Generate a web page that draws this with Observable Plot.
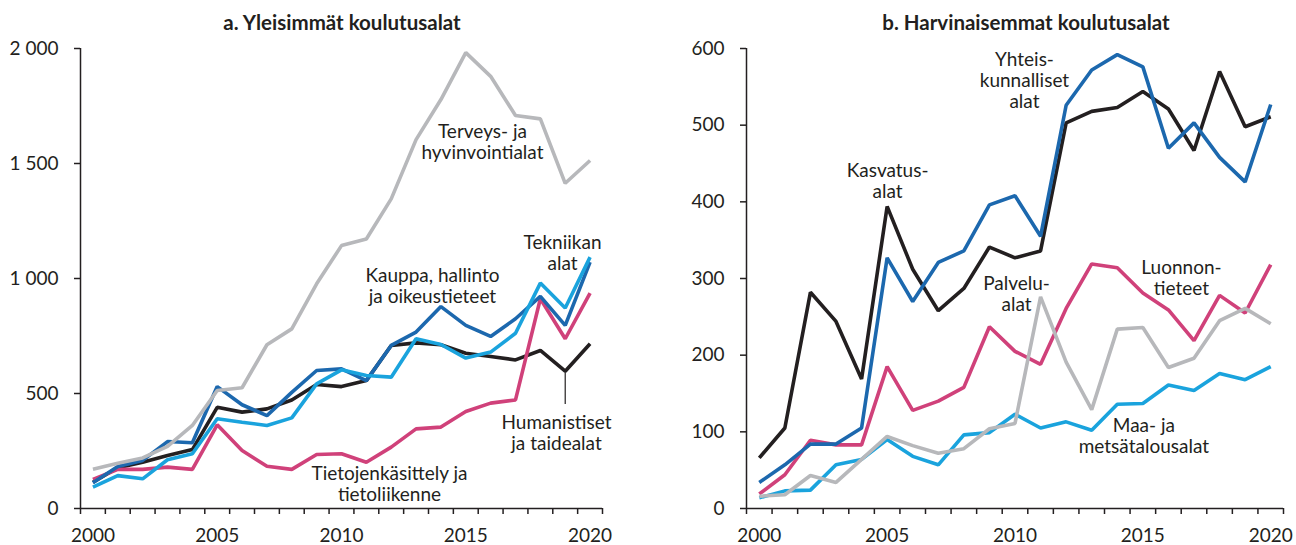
<!DOCTYPE html>
<html><head><meta charset="utf-8">
<script src="https://cdn.jsdelivr.net/npm/d3@7"></script>
<script src="https://cdn.jsdelivr.net/npm/@observablehq/plot@0.6"></script>
<style>
body{margin:0;background:#fff;font-family:Lato, sans-serif;}
#wrap{position:relative;width:1296px;height:545px;overflow:hidden;background:#fff;}
.panel{position:absolute;top:0;}
.title{position:absolute;top:11px;line-height:22px;font-weight:bold;font-size:20.5px;transform:translateX(-50%);white-space:nowrap;color:#231f20;}
</style></head><body>
<div id="wrap">
  <div class="panel" id="pa" style="left:0px"></div>
  <div class="panel" id="pb" style="left:648px"></div>
  <div class="title" style="left:342px">a. Yleisimmät koulutusalat</div>
  <div class="title" style="left:1026px">b. Harvinaisemmat koulutusalat</div>
</div>
<script>
const years = [2000,2001,2002,2003,2004,2005,2006,2007,2008,2009,2010,2011,2012,2013,2014,2015,2016,2017,2018,2019,2020];
const yearLabels = [2000,2005,2010,2015,2020];

// Panel a: Yleisimmät koulutusalat
const humanistiset = [114,177,201,230,256,440,419,433,472,539,530,556,709,720,712,675,661,646,687,597,716];
const tietojenkasittely = [126,170,170,180,170,364,252,184,170,235,238,201,267,346,354,422,458,472,912,738,936];
const kauppa = [112,183,209,291,286,530,451,404,505,600,607,556,709,767,878,796,748,825,922,796,1071];
const tekniikka = [93,143,129,212,238,390,375,361,394,542,603,578,571,738,713,654,680,762,980,872,1093];
const terveys = [171,197,220,270,361,513,525,712,781,977,1143,1172,1346,1604,1778,1982,1879,1709,1694,1414,1513];

// Panel b: Harvinaisemmat koulutusalat
const kasvatus = [66,105,282,244,169,394,312,258,287,341,327,336,503,518,523,544,521,467,570,498,511];
const luonnontieteet = [19,44,89,83,83,185,128,140,158,237,205,188,261,319,314,281,259,219,278,255,318];
const yhteiskunnalliset = [34,57,84,84,105,327,270,321,336,396,408,355,526,572,592,576,470,503,458,426,527];
const maametsa = [14,23,24,57,64,90,68,57,96,99,123,105,113,102,136,137,161,154,176,168,185];
const palvelu = [16,18,43,34,64,94,82,72,78,104,111,276,191,129,234,236,184,196,245,261,241];

const C = {black:"#231f20", dark:"#1c68ae", light:"#1aa3dd", pink:"#d0417a", gray:"#b7b8bb"};

const seriesA = [
  {name:"Humanistiset ja taidealat", values:humanistiset, color:C.black},
  {name:"Tietojenkäsittely ja tietoliikenne", values:tietojenkasittely, color:C.pink},
  {name:"Kauppa, hallinto ja oikeustieteet", values:kauppa, color:C.dark},
  {name:"Tekniikan alat", values:tekniikka, color:C.light},
  {name:"Terveys- ja hyvinvointialat", values:terveys, color:C.gray}
];
const seriesB = [
  {name:"Kasvatusalat", values:kasvatus, color:C.black},
  {name:"Luonnontieteet", values:luonnontieteet, color:C.pink},
  {name:"Maa- ja metsätalousalat", values:maametsa, color:C.light},
  {name:"Palvelualat", values:palvelu, color:C.gray},
  {name:"Yhteiskunnalliset alat", values:yhteiskunnalliset, color:C.dark}
];

const labelsA = [
  {x:2015.67, y:1596, text:"Terveys- ja\nhyvinvointialat"},
  {x:2013.66, y:970, text:"Kauppa, hallinto\nja oikeustieteet"},
  {x:2018.89, y:1113, text:"Tekniikan\nalat"},
  {x:2018.65, y:330, text:"Humanistiset\nja taidealat"},
  {x:2011.93, y:109, text:"Tietojenkäsittely ja\ntietoliikenne"}
];
const labelsB = [
  {x:2010.37, y:559, text:"Yhteis-\nkunnalliset\nalat"},
  {x:2005.02, y:427, text:"Kasvatus-\nalat"},
  {x:2010.06, y:280, text:"Palvelu-\nalat"},
  {x:2016.51, y:301, text:"Luonnon-\ntieteet"},
  {x:2015.04, y:95, text:"Maa- ja\nmetsätalousalat"}
];
const leadersA = [{x:2019, y1:humanistiset[19], y2:452}];

const fmt = d3.formatLocale({decimal:",", thousands:"\u00a0", grouping:[3], currency:["","€"]}).format(",");

function panel({series, labels, leaders, ymax, ystep, marginLeft, marginRight}) {
  const rows = series.flatMap(s => s.values.map((v,i) => ({year:years[i], value:v, name:s.name})));
  const x0 = years[0] - 0.5, x1 = years[years.length-1] + 0.5;
  const boundaries = d3.range(years.length + 1).map(i => x0 + i);
  return Plot.plot({
    width:648, height:545, marginLeft, marginRight, marginTop:48, marginBottom:37,
    style:{fontFamily:"Lato, sans-serif", fontSize:"19px", color:"#231f20", background:"white", overflow:"visible"},
    x:{domain:[x0, x1]},
    y:{domain:[0, ymax]},
    color:{domain:series.map(s => s.name), range:series.map(s => s.color)},
    marks:[
      Plot.axisY({ticks:d3.range(0, ymax + 1, ystep), tickSize:6, tickPadding:16, tickFormat:fmt, label:null, fontSize:19, strokeWidth:1.5}),
      Plot.axisX({ticks:boundaries, tickSize:6, tickFormat:() => "", label:null, strokeWidth:1.5}),
      Plot.axisX({ticks:yearLabels, tickSize:0, tickPadding:20, tickFormat:d => String(d), label:null, fontSize:19}),
      Plot.ruleX([x0], {y1:0, y2:ymax, stroke:"#231f20", strokeWidth:1.5}),
      Plot.ruleY([0], {stroke:"#231f20", strokeWidth:1.5}),
      Plot.line(rows, {x:"year", y:"value", z:"name", stroke:"name", strokeWidth:3.6, strokeLinejoin:"miter", strokeLinecap:"butt"}),
      Plot.ruleX(leaders || [], {x:"x", y1:"y1", y2:"y2", stroke:"#231f20", strokeWidth:1.2}),
      Plot.text(labels, {x:"x", y:"y", text:"text", lineHeight:1.1, fontSize:19, fill:"#231f20"})
    ]
  });
}

document.getElementById("pa").append(panel({series:seriesA, labels:labelsA, leaders:leadersA, ymax:2000, ystep:500, marginLeft:80, marginRight:46}));
document.getElementById("pb").append(panel({series:seriesB, labels:labelsB, ymax:600, ystep:100, marginLeft:98, marginRight:13}));
</script>
</body></html>
